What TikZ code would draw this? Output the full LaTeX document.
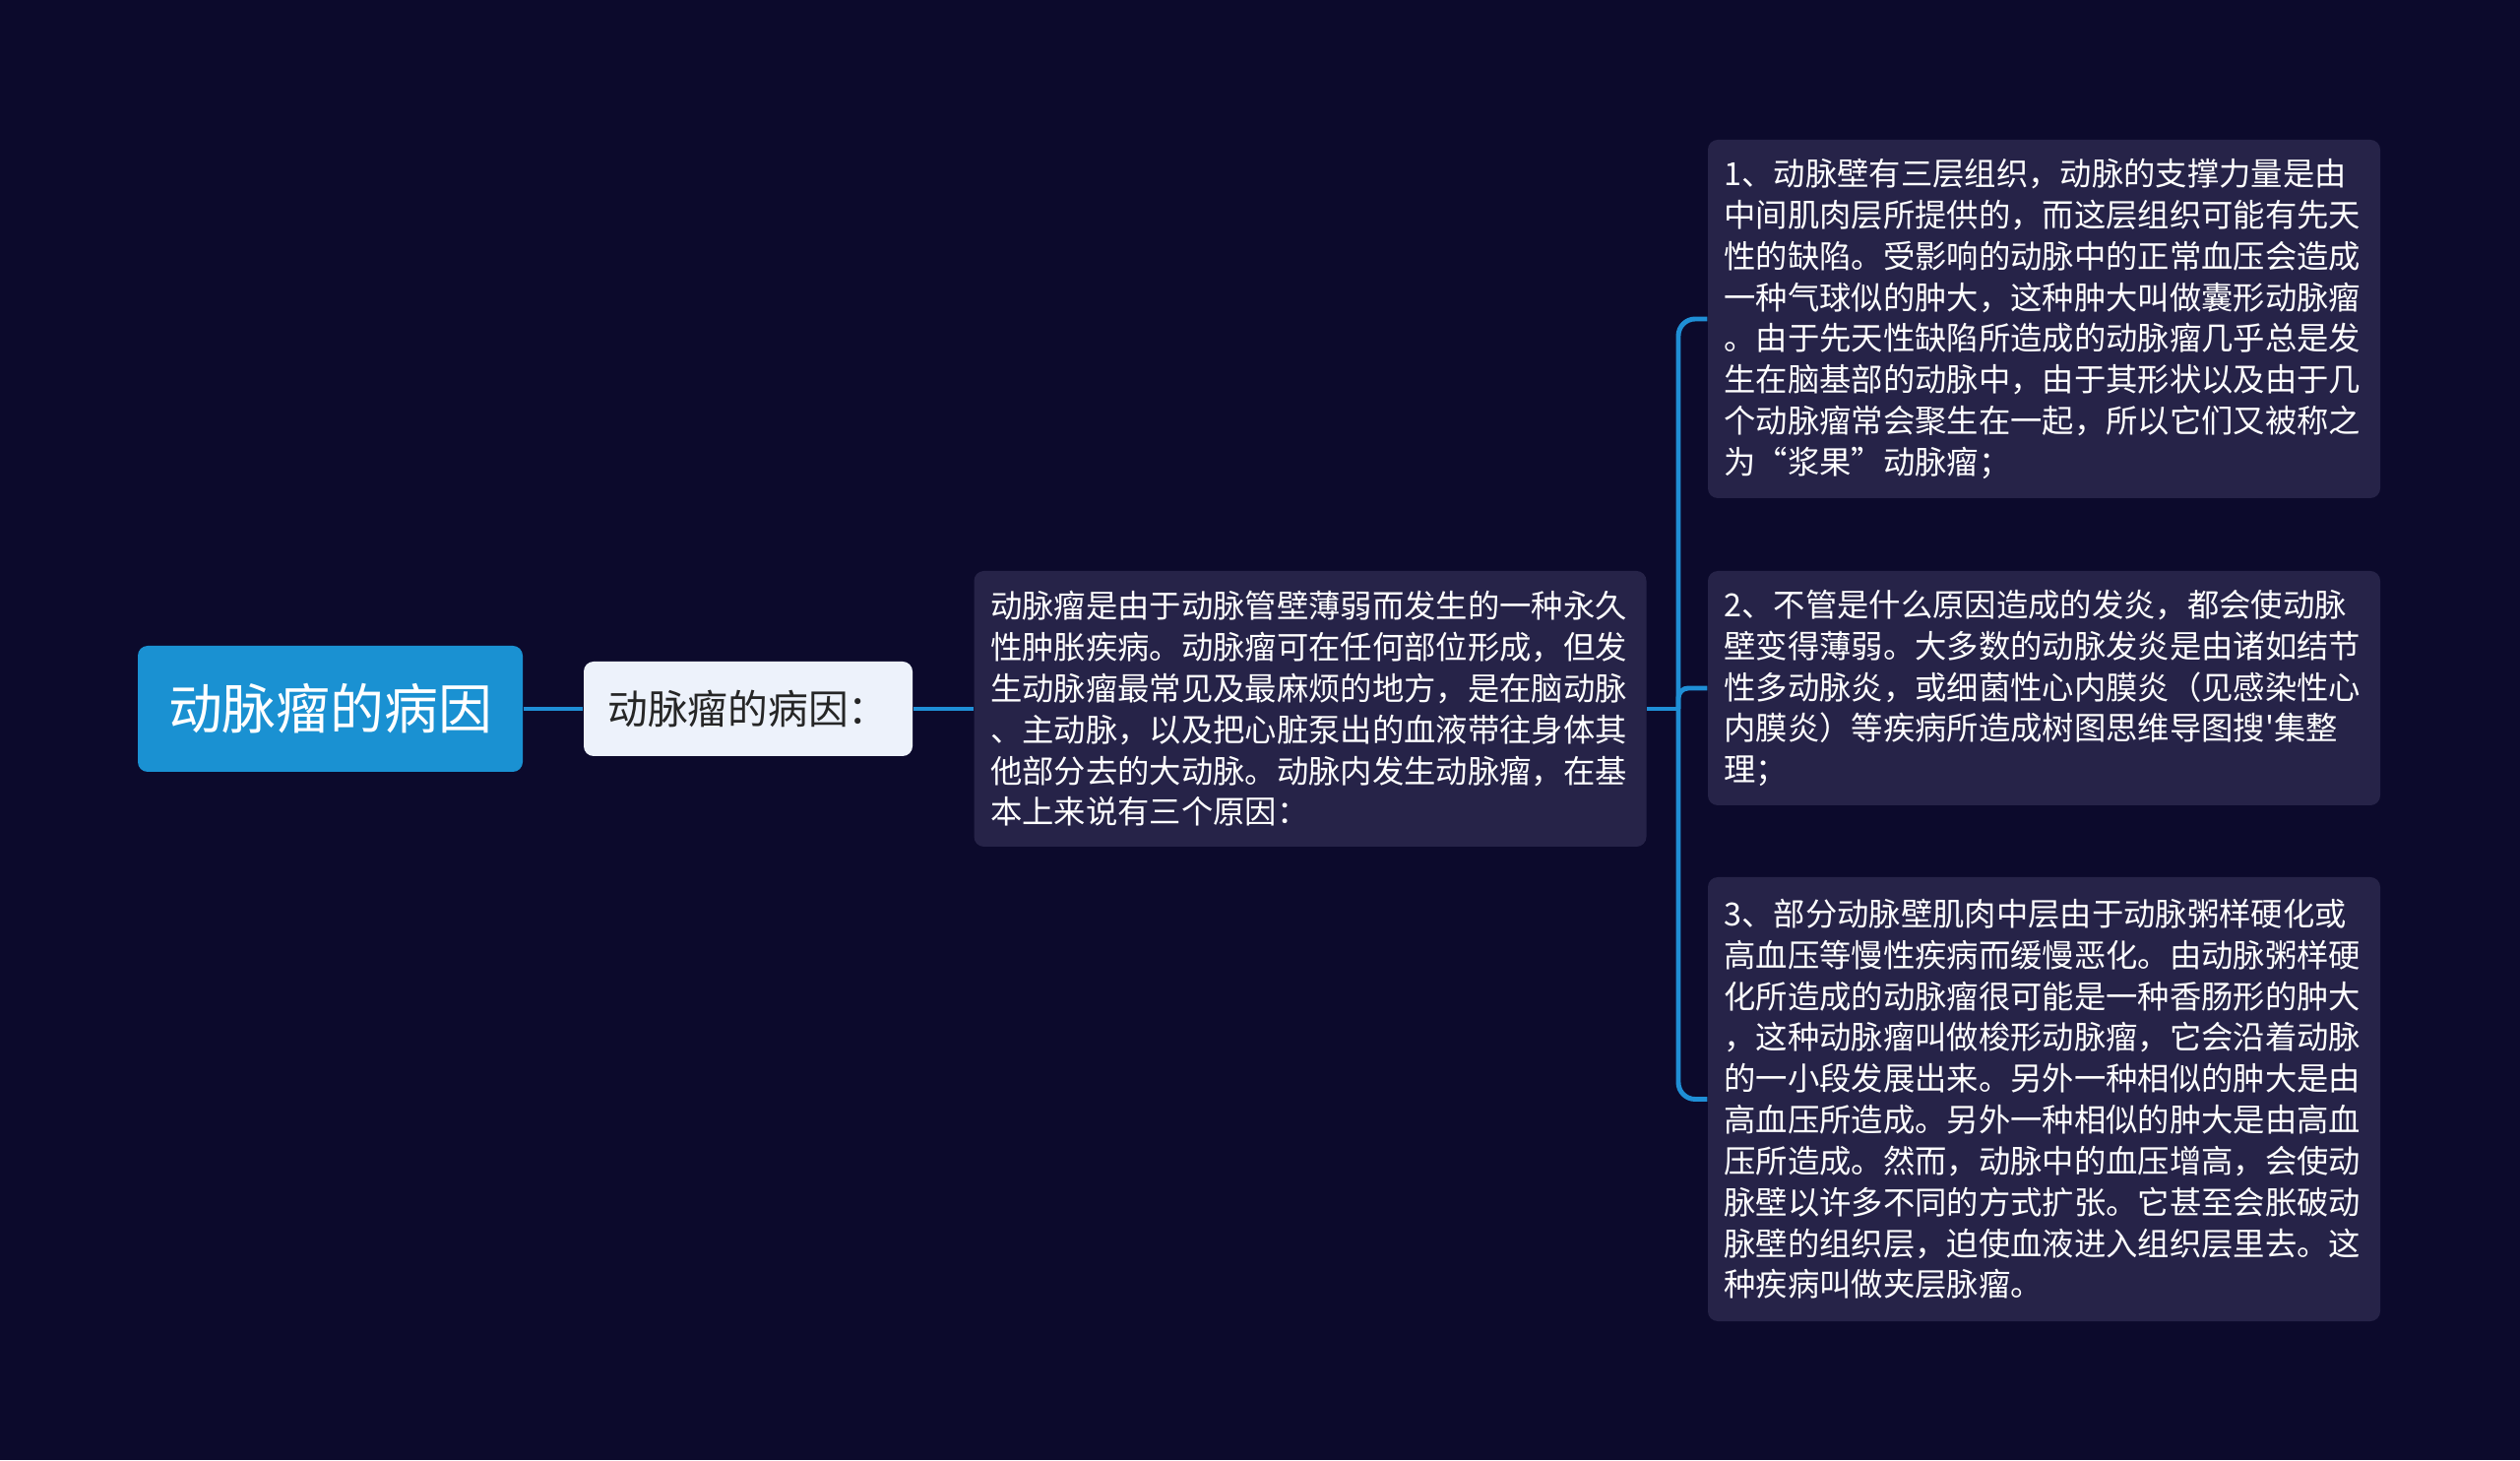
\documentclass[tikz,border=0pt]{standalone}
\usepackage{fontspec}
\newfontfamily\cjk{Noto Sans CJK SC}
\usetikzlibrary{calc}
\definecolor{bgnavy}{HTML}{0C0A2C}
\definecolor{rootblue}{HTML}{1A91D2}
\definecolor{palebox}{HTML}{EDF2FB}
\definecolor{boxnavy}{HTML}{262348}
\definecolor{linkblue}{HTML}{1F8FD6}
\tikzset{
  root box/.style={fill=rootblue, rounded corners=0.1cm, text=white,
    font=\cjk\fontsize{15.6}{18}\selectfont, minimum width=3.91cm, minimum height=1.28cm},
  sub box/.style={fill=palebox, rounded corners=0.1cm, text=black!85,
    font=\cjk\fontsize{11.6}{14}\selectfont, minimum width=3.34cm, minimum height=0.96cm},
  text box/.style={fill=boxnavy, rounded corners=0.1cm, text=white,
    font=\cjk\fontsize{9.2}{11.9}\selectfont, text width=6.5cm, align=left,
    inner xsep=0.165cm, inner ysep=0.19cm},
  link/.style={draw=linkblue, line width=1.4pt}
}

\begin{document}
\begin{tikzpicture}
    \fill [bgnavy] (0,0) rectangle (25.6,14.83);
    \useasboundingbox (0,0) rectangle (25.6,14.83);

    \node [root box] (root) at (3.355, 7.63) {动脉瘤的病因};
    \node [sub box] (cause) at (7.60, 7.63) {动脉瘤的病因：};
    \node [text box, minimum height=2.80cm] (intro) at (13.31, 7.63) {动脉瘤是由于动脉管壁薄弱而发生的一种永久\\
        性肿胀疾病。动脉瘤可在任何部位形成，但发\\
        生动脉瘤最常见及最麻烦的地方，是在脑动脉\\
        、主动脉，以及把心脏泵出的血液带往身体其\\
        他部分去的大动脉。动脉内发生动脉瘤，在基\\
        本上来说有三个原因：};

    \node [text box, minimum height=3.64cm] (r1) at (20.765, 11.59) {1、动脉壁有三层组织，动脉的支撑力量是由\\
        中间肌肉层所提供的，而这层组织可能有先天\\
        性的缺陷。受影响的动脉中的正常血压会造成\\
        一种气球似的肿大，这种肿大叫做囊形动脉瘤\\
        。由于先天性缺陷所造成的动脉瘤几乎总是发\\
        生在脑基部的动脉中，由于其形状以及由于几\\
        个动脉瘤常会聚生在一起，所以它们又被称之\\
        为“浆果”动脉瘤；};
    \node [text box, minimum height=2.38cm] (r2) at (20.765, 7.84) {2、不管是什么原因造成的发炎，都会使动脉\\
        壁变得薄弱。大多数的动脉发炎是由诸如结节\\
        性多动脉炎，或细菌性心内膜炎（见感染性心\\
        内膜炎）等疾病所造成树图思维导图搜'集整\\
        理；};
    \node [text box, minimum height=4.51cm] (r3) at (20.765, 3.665) {3、部分动脉壁肌肉中层由于动脉粥样硬化或\\
        高血压等慢性疾病而缓慢恶化。由动脉粥样硬\\
        化所造成的动脉瘤很可能是一种香肠形的肿大\\
        ，这种动脉瘤叫做梭形动脉瘤，它会沿着动脉\\
        的一小段发展出来。另外一种相似的肿大是由\\
        高血压所造成。另外一种相似的肿大是由高血\\
        压所造成。然而，动脉中的血压增高，会使动\\
        脉壁以许多不同的方式扩张。它甚至会胀破动\\
        脉壁的组织层，迫使血液进入组织层里去。这\\
        种疾病叫做夹层脉瘤。};

    \coordinate (fork) at (17.05, 7.63);
    \draw [link] (root) -- (cause);
    \draw [link] (cause) -- (intro);
    \draw [link] (intro) -- (fork);
    \draw [link, rounded corners=0.17cm] (fork) |- (r1.west);
    \draw [link, rounded corners=0.1cm] (fork) |- (r2.west);
    \draw [link, rounded corners=0.17cm] (fork) |- (r3.west);
\end{tikzpicture}
\end{document}
